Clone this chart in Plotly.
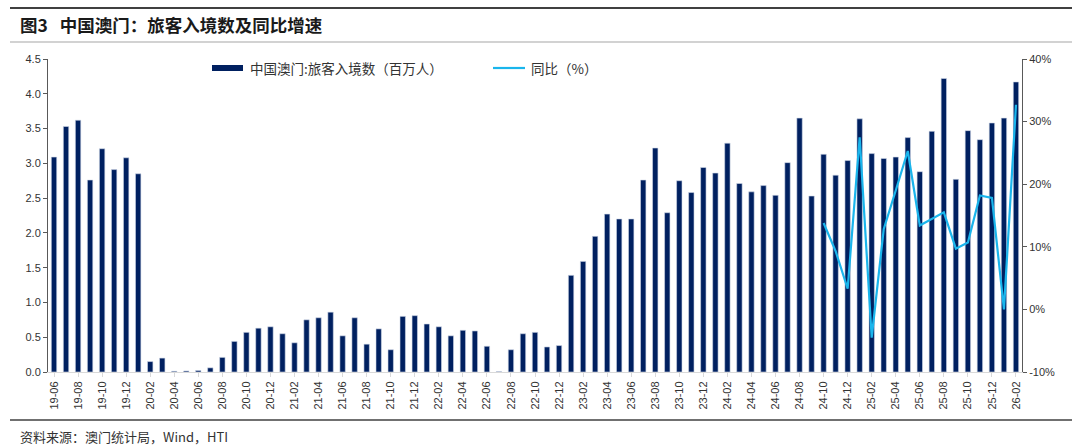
import plotly.graph_objects as go

months = []
for y in range(2019, 2027):
    for m in range(1, 13):
        if (y == 2019 and m < 6) or (y == 2026 and m > 2):
            continue
        months.append(f"{y % 100:02d}-{m:02d}")

arrivals = [
    3.09, 3.53, 3.62, 2.76, 3.21, 2.91, 3.08,            # 2019-06..12
    2.85, 0.15, 0.20, 0.011, 0.015, 0.022, 0.06, 0.21, 0.44, 0.57, 0.63, 0.65,  # 2020
    0.55, 0.42, 0.75, 0.78, 0.86, 0.52, 0.78, 0.40, 0.62, 0.32, 0.80, 0.81,    # 2021
    0.69, 0.65, 0.52, 0.60, 0.59, 0.37, 0.005, 0.32, 0.55, 0.57, 0.36, 0.38,   # 2022
    1.39, 1.59, 1.95, 2.27, 2.20, 2.20, 2.76, 3.22, 2.29, 2.75, 2.58, 2.94,    # 2023
    2.86, 3.29, 2.71, 2.59, 2.68, 2.54, 3.01, 3.65, 2.53, 3.13, 2.83, 3.04,    # 2024
    3.64, 3.14, 3.07, 3.09, 3.37, 2.88, 3.46, 4.22, 2.77, 3.47, 3.34, 3.58,    # 2025
    3.65, 4.17,                                                                  # 2026
]

yoy = [None] * len(months)
yoy_start = months.index("24-10")
yoy_values = [13.8, 9.3, 3.3, 27.5, -4.5, 12.8, 19.0, 25.3, 13.4, 14.4, 15.5,
              9.7, 10.7, 18.2, 17.8, 0.0, 32.7]
for i, v in enumerate(yoy_values):
    yoy[yoy_start + i] = v

tick_labels = months[::2]
left_ticks = [0, 0.5, 1.0, 1.5, 2.0, 2.5, 3.0, 3.5, 4.0, 4.5]
right_ticks = [-10, 0, 10, 20, 30, 40]

title_text = "<b>图3   中国澳门：旅客入境数及同比增速</b>"
source_text = "资料来源：澳门统计局，Wind，HTI"
bar_name = "中国澳门:旅客入境数（百万人）"
line_name = "同比（%）"

BAR = "#002060"
LINE = "#1AB5EC"
CJK = "Noto Sans CJK SC"
LAT = "Liberation Sans, Noto Sans CJK SC"

W, H = 1080, 445
ML, MR, MT, MB = 48, 58, 59, 73
PW, PH = W - ML - MR, H - MT - MB

def xf(px):
    return (px - ML) / PW

def yf(py):
    return (H - MB - py) / PH

fig = go.Figure()
fig.add_trace(go.Bar(
    x=months, y=arrivals, name=bar_name,
    marker=dict(color=BAR, line=dict(color="#D0D8E8", width=0.6)),
    width=0.45, yaxis="y", showlegend=False,
))
fig.add_trace(go.Scatter(
    x=months, y=yoy, name=line_name, mode="lines",
    line=dict(color=LINE, width=2.2), yaxis="y2", connectgaps=False,
    showlegend=False,
))

fig.update_layout(
    width=W, height=H,
    margin=dict(l=ML, r=MR, t=MT, b=MB, autoexpand=False),
    paper_bgcolor="white", plot_bgcolor="white",
    showlegend=False,
    xaxis=dict(
        type="category", categoryorder="array", categoryarray=months,
        range=[-0.5, len(months) - 0.5],
        tickmode="array", tickvals=tick_labels, ticktext=tick_labels,
        tickangle=-90, tickfont=dict(family=LAT, size=11, color="#333333"),
        showline=True, linecolor="#D9D9D9", linewidth=1,
        ticks="outside", ticklen=4, tickcolor="#D9D9D9",
        showgrid=False, zeroline=False, fixedrange=True,
    ),
    yaxis=dict(
        range=[0, 4.5], tickmode="array", tickvals=left_ticks,
        ticktext=[f"{v:.1f}" for v in left_ticks],
        tickfont=dict(family=LAT, size=11, color="#333333"),
        showline=True, linecolor="#595959", linewidth=1,
        ticks="outside", ticklen=4, tickcolor="#595959",
        showgrid=False, zeroline=False,
    ),
    yaxis2=dict(
        range=[-10, 40], overlaying="y", side="right",
        tickmode="array", tickvals=right_ticks,
        ticktext=[f"{v}%" for v in right_ticks],
        tickfont=dict(family=LAT, size=11, color="#333333"),
        showline=True, linecolor="#595959", linewidth=1,
        ticks="outside", ticklen=4, tickcolor="#595959",
        showgrid=False, zeroline=False,
    ),
)

# Rules
for py, col, w in [(8, "#404040", 2.2), (42, "#A6A6A6", 1.2), (420, "#404040", 1.6)]:
    fig.add_shape(type="line", xref="paper", yref="paper",
                  x0=xf(10), x1=xf(1072), y0=yf(py), y1=yf(py),
                  line=dict(color=col, width=w))

# Custom legend
fig.add_shape(type="rect", xref="paper", yref="paper",
              x0=xf(212), x1=xf(243), y0=yf(71), y1=yf(65),
              fillcolor=BAR, line=dict(width=0))
fig.add_shape(type="line", xref="paper", yref="paper",
              x0=xf(493), x1=xf(525), y0=yf(68), y1=yf(68),
              line=dict(color=LINE, width=2.2))

annos = [
    (title_text, 18, 25, 17.5, "#1a1a1a"),
    (source_text, 18, 436, 13, "#333333"),
    (bar_name, 248, 68, 13.5, "#333333"),
    (line_name, 529, 68, 13.5, "#333333"),
]
for txt, px, py, sz, col in annos:
    fig.add_annotation(text=txt, xref="paper", yref="paper", x=xf(px), y=yf(py),
                       xanchor="left", yanchor="middle", showarrow=False,
                       font=dict(family=CJK, size=sz, color=col))

fig.write_html("out.html", config={"displayModeBar": False},
               post_script="document.body.style.margin='0px';")
